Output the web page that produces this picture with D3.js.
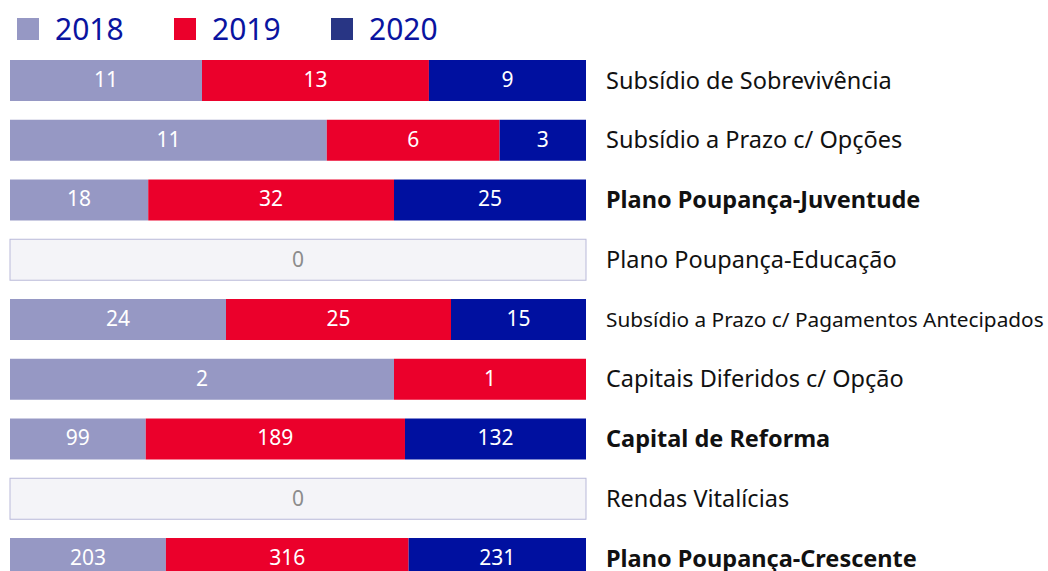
<!DOCTYPE html>
<html>
<head>
<meta charset="utf-8">
<script src="https://cdn.jsdelivr.net/npm/d3@7"></script>
<style>
  body { margin: 0; background: #fff; }
  text { font-family: "Noto Sans", sans-serif; }
</style>
</head>
<body>
<div id="chart"></div>
<script>
// data
const categories = [
    "Subsídio de Sobrevivência",
    "Subsídio a Prazo c/ Opções",
    "Plano Poupança-Juventude",
    "Plano Poupança-Educação",
    "Subsídio a Prazo c/ Pagamentos Antecipados",
    "Capitais Diferidos c/ Opção",
    "Capital de Reforma",
    "Rendas Vitalícias",
    "Plano Poupança-Crescente"
];
const boldCategories = ["Plano Poupança-Juventude", "Capital de Reforma", "Plano Poupança-Crescente"];
const years = ["2018", "2019", "2020"];
const values2018 = [11, 11, 18, 0, 24, 2, 99, 0, 203];
const values2019 = [13, 6, 32, 0, 25, 1, 189, 0, 316];
const values2020 = [9, 3, 25, 0, 15, 0, 132, 0, 231];

const width = 1048, height = 571;
const barColors = {"2018": "#9698c4", "2019": "#eb002b", "2020": "#0010a0"};
const legendColors = {"2018": "#9698c4", "2019": "#eb002b", "2020": "#283584"};

const rows = categories.map((c, i) => ({
    category: c,
    "2018": values2018[i],
    "2019": values2019[i],
    "2020": values2020[i]
}));

const svg = d3.select("#chart")
    .append("svg")
    .attr("width", width)
    .attr("height", height);

const y = d3.scaleBand()
    .domain(categories)
    .range([60, 579])
    .paddingInner(0.314)
    .paddingOuter(0);

const x = d3.scaleLinear()
    .domain([0, 1])
    .range([10, 586]);

const series = d3.stack()
    .keys(years)
    .offset(d3.stackOffsetExpand)(rows);

// empty rows (all zero)
const empty = rows.filter(r => years.every(k => r[k] === 0));
svg.selectAll("rect.empty")
    .data(empty)
    .enter()
    .append("rect")
    .attr("class", "empty")
    .attr("x", x(0))
    .attr("y", d => y(d.category))
    .attr("width", x(1) - x(0))
    .attr("height", y.bandwidth())
    .attr("fill", "#f4f4f8")
    .attr("stroke", "#b9b9d9")
    .attr("stroke-width", 1);

svg.selectAll("text.empty")
    .data(empty)
    .enter()
    .append("text")
    .attr("class", "empty")
    .attr("x", (x(0) + x(1)) / 2)
    .attr("y", d => y(d.category) + y.bandwidth() / 2)
    .attr("dy", "0.35em")
    .attr("text-anchor", "middle")
    .attr("font-size", 21)
    .attr("fill", "#8c8c8c")
    .text("0");

const groups = svg.selectAll("g.series")
    .data(series)
    .enter()
    .append("g")
    .attr("class", "series")
    .attr("fill", d => barColors[d.key]);

const segs = groups.selectAll("g.seg")
    .data(d => d.map(p => ({key: d.key, p: p}))
        .filter(s => s.p.data[s.key] > 0))
    .enter()
    .append("g")
    .attr("class", "seg");

segs.append("rect")
    .attr("x", d => x(d.p[0]))
    .attr("y", d => y(d.p.data.category))
    .attr("width", d => x(d.p[1]) - x(d.p[0]))
    .attr("height", y.bandwidth());

segs.append("text")
    .attr("x", d => (x(d.p[0]) + x(d.p[1])) / 2)
    .attr("y", d => y(d.p.data.category) + y.bandwidth() / 2)
    .attr("dy", "0.3em")
    .attr("text-anchor", "middle")
    .attr("font-size", 21)
    .attr("fill", "#fff")
    .text(d => d.p.data[d.key]);

// category labels on the right
svg.selectAll("text.cat")
    .data(categories)
    .enter()
    .append("text")
    .attr("class", "cat")
    .attr("x", 606)
    .attr("y", d => y(d) + y.bandwidth() / 2)
    .attr("dy", "0.35em")
    .attr("font-size", d => d.length > 30 ? 20.8 : 23.5)
    .attr("font-weight", d => boldCategories.includes(d) ? "bold" : "normal")
    .attr("fill", "#111")
    .text(d => d);

// legend
const legend = svg.selectAll("g.legend")
    .data(years)
    .enter()
    .append("g")
    .attr("class", "legend")
    .attr("transform", (d, i) => `translate(${17 + i * 157},18)`);

legend.append("rect")
    .attr("width", 22)
    .attr("height", 22)
    .attr("fill", d => legendColors[d]);

legend.append("text")
    .attr("x", 38)
    .attr("y", 22)
    .attr("font-size", 30)
    .attr("fill", "#0a14a0")
    .text(d => d);
</script>
</body>
</html>
